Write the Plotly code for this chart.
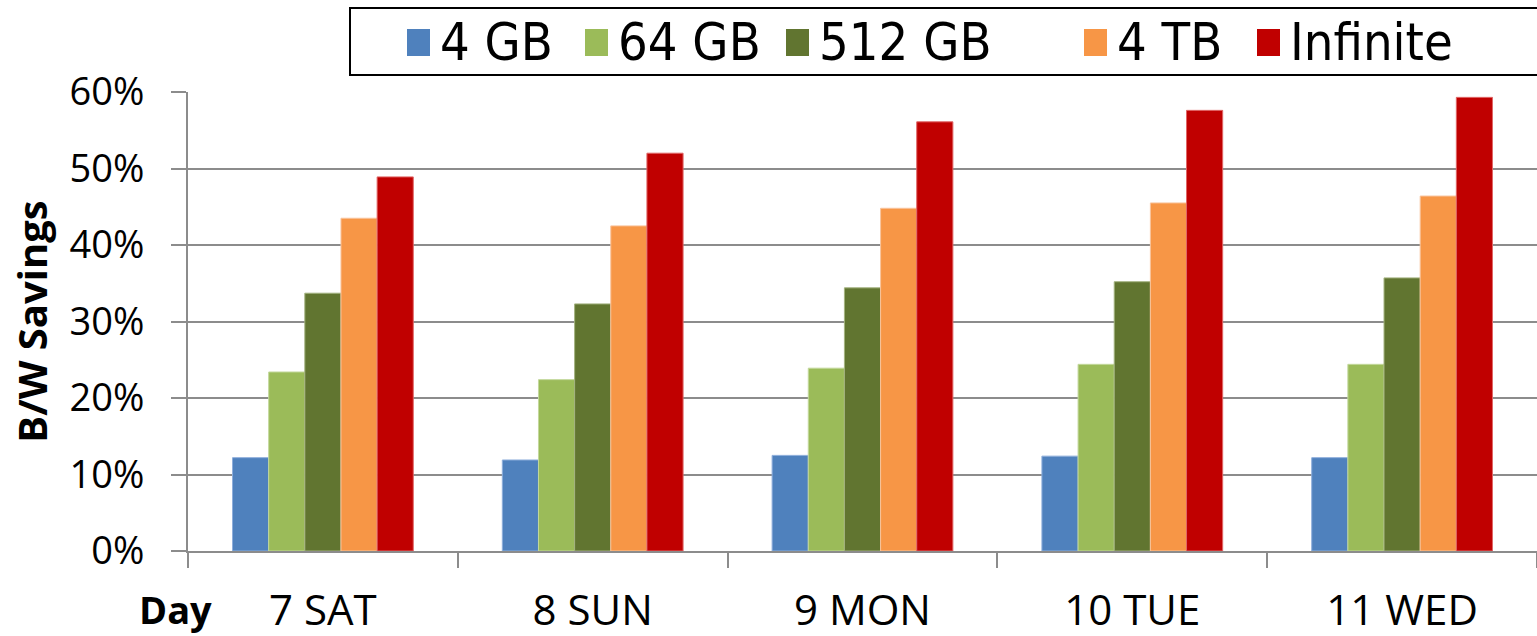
import plotly.graph_objects as go

# Daily bandwidth savings by cache size
days = ["7 SAT", "8 SUN", "9 MON", "10 TUE", "11 WED"]
cache_4gb = [0.122, 0.119, 0.125, 0.124, 0.122]
cache_64gb = [0.234, 0.224, 0.239, 0.244, 0.244]
cache_512gb = [0.337, 0.323, 0.344, 0.352, 0.357]
cache_4tb = [0.435, 0.425, 0.448, 0.455, 0.464]
cache_inf = [0.489, 0.520, 0.561, 0.576, 0.593]

series_names = ["4 GB", "64 GB", "512 GB", "4 TB", "Infinite"]
series_values = [cache_4gb, cache_64gb, cache_512gb, cache_4tb, cache_inf]
colors = ["#4F81BD", "#9BBB59", "#617530", "#F79646", "#C00000"]
edge_colors = ["#8EAEDB", "#C3D89C", "#A3B27F", "#F9C49D", "#E06666"]

W, H = 1537, 636
ML, MR, MT, MB = 188, 0, 92, 85
PW = W - ML - MR
PH = H - MT - MB

def px_x(px):
    return (px - ML) / PW

def px_y(py):
    return (H - MB - py) / PH

fig = go.Figure()
for name, vals, col, edge in zip(series_names, series_values, colors, edge_colors):
    fig.add_trace(go.Bar(
        x=days, y=vals, name=name, showlegend=False,
        marker=dict(color=col, line=dict(color=edge, width=1)),
    ))

axis_gray = "#8C8C8C"
base_family = "Open Sans, DejaVu Sans, sans-serif"
y_tick_font = dict(family=base_family, size=38, color="black")
x_tick_font = dict(family=base_family, size=42, color="black")

fig.update_layout(
    width=W, height=H,
    margin=dict(l=ML, r=MR, t=MT, b=MB, pad=0),
    paper_bgcolor="white", plot_bgcolor="white",
    barmode="group", bargap=0.33, bargroupgap=0,
    font=y_tick_font,
    xaxis=dict(
        showgrid=False, showline=True, linecolor=axis_gray, linewidth=2,
        ticks="outside", tickson="boundaries", ticklen=15, tickwidth=2,
        tickcolor=axis_gray, tickfont=x_tick_font, ticklabelstandoff=22,
    ),
    yaxis=dict(
        range=[0, 0.6], dtick=0.1, tickformat=".0%",
        showgrid=True, gridcolor=axis_gray, gridwidth=2,
        showline=True, linecolor=axis_gray, linewidth=2,
        ticks="outside", ticklen=15, tickwidth=2, tickcolor=axis_gray,
        tickfont=y_tick_font, ticklabelstandoff=19, zeroline=False,
        title=dict(text="B/W Savings", standoff=10,
                   font=dict(family=base_family, size=40, color="black",
                             weight="bold")),
    ),
)

# "Day" caption at the left of the category labels
fig.add_annotation(
    text="<b>Day</b>", xref="paper", yref="paper",
    x=px_x(214), y=px_y(609), xanchor="right", yanchor="middle",
    showarrow=False,
    font=dict(family=base_family, size=38, color="black"),
)

# Legend box drawn along the top edge
fig.add_shape(
    type="rect", xref="paper", yref="paper",
    x0=px_x(350), x1=px_x(1545), y0=px_y(75), y1=px_y(8),
    line=dict(color="black", width=2), fillcolor="white", layer="above",
)
legend_square_x = [407, 585, 786, 1084, 1257]
for name, col, sx in zip(series_names, colors, legend_square_x):
    fig.add_shape(
        type="rect", xref="paper", yref="paper",
        x0=px_x(sx), x1=px_x(sx + 23), y0=px_y(56), y1=px_y(29),
        line=dict(width=0), fillcolor=col, layer="above",
    )
    fig.add_annotation(
        text=name, xref="paper", yref="paper",
        x=px_x(sx + 31), y=px_y(42), xanchor="left", yanchor="middle",
        showarrow=False,
        font=dict(family="DejaVu Sans Condensed, DejaVu Sans, sans-serif",
                  size=52, color="black"),
    )

fig.write_html("out.html")
